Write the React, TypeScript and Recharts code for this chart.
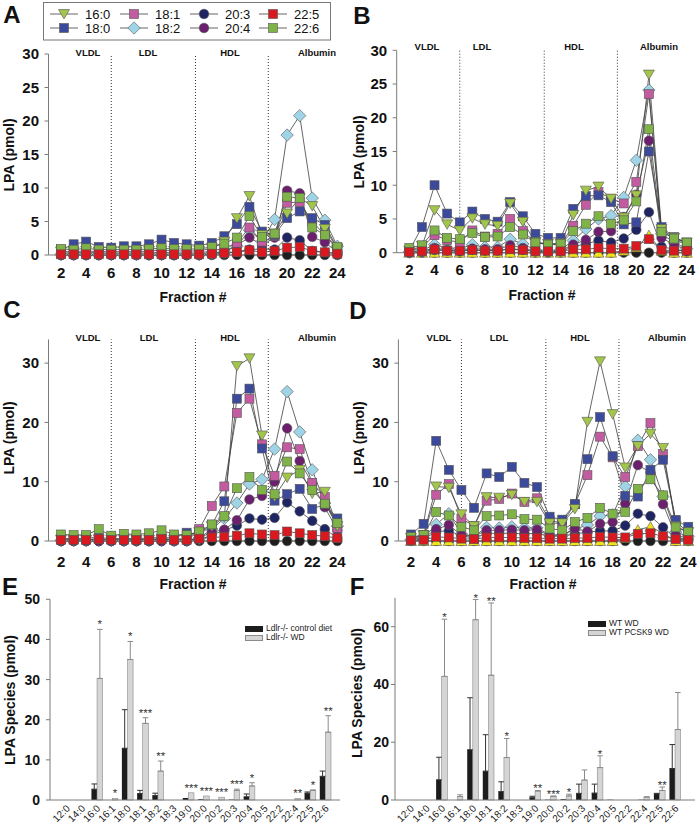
import React from 'react';
import { LineChart, Line, XAxis, YAxis, ReferenceLine, BarChart, Bar, ErrorBar } from 'recharts';

const FONT = '"Liberation Sans", Arial, Helvetica, sans-serif';

// fractions 2..24
const fractions = [2, 3, 4, 5, 6, 7, 8, 9, 10, 11, 12, 13, 14, 15, 16, 17, 18, 19, 20, 21, 22, 23, 24];
const fracTicks = [2, 4, 6, 8, 10, 12, 14, 16, 18, 20, 22, 24];
const dividers = [6, 12.7, 18.5];
const regionNames = ['VLDL', 'LDL', 'HDL', 'Albumin'];
const baseline = [0, 0, 0, 0, 0, 0, 0, 0, 0, 0, 0, 0, 0, 0, 0, 0, 0, 0, 0, 0, 0, 0, 0];

// panel A
const a160 = [0.5, 0.5, 0.6, 0.5, 0.5, 0.5, 0.5, 0.6, 0.7, 0.6, 0.6, 0.6, 1.0, 2.0, 5.5, 8.8, 3.0, 3.2, 6.2, 8.5, 7.3, 3.9, 1.0];
const a180 = [0.8, 1.6, 2.0, 1.2, 1.1, 1.3, 1.3, 1.6, 2.3, 1.8, 1.6, 1.4, 1.8, 2.8, 4.6, 7.2, 3.5, 3.0, 5.5, 6.5, 5.5, 4.5, 1.0];
const a181 = [0.3, 0.3, 0.4, 0.3, 0.3, 0.3, 0.3, 0.3, 0.4, 0.3, 0.3, 0.3, 0.6, 1.0, 1.8, 4.1, 2.0, 2.8, 7.8, 7.9, 5.0, 3.0, 0.8];
const a182 = [0.1, 0.1, 0.1, 0.1, 0.1, 0.1, 0.1, 0.1, 0.1, 0.1, 0.1, 0.1, 0.2, 0.5, 1.3, 3.7, 2.0, 5.3, 17.9, 20.8, 8.5, 5.2, 1.3];
const a203 = [0, 0, 0, 0, 0, 0, 0, 0, 0, 0, 0, 0, 0.1, 0.2, 0.5, 0.8, 0.9, 0.8, 2.6, 2.2, 0.6, 0.4, 0.2];
const a204 = [0, 0, 0, 0, 0, 0, 0, 0, 0, 0, 0, 0, 0.2, 0.5, 1.5, 2.6, 1.5, 2.6, 9.6, 9.2, 2.7, 1.9, 0.4];
const a225 = [0.1, 0.1, 0.1, 0.1, 0.1, 0.1, 0.1, 0.1, 0.1, 0.1, 0.1, 0.1, 0.2, 0.3, 0.4, 0.7, 0.4, 0.6, 1.1, 1.2, 0.6, 0.4, 0.2];
const a226 = [0.9, 0.8, 1.0, 0.8, 0.8, 0.8, 0.8, 0.9, 1.0, 0.9, 0.9, 0.9, 1.2, 1.7, 2.6, 5.8, 2.7, 3.2, 8.7, 8.5, 4.1, 3.0, 1.2];

// panel B
const b160 = [0.3, 1.0, 6.3, 4.2, 3.3, 5.1, 4.2, 4.0, 7.3, 4.6, 1.6, 1.3, 1.4, 5.6, 9.2, 9.8, 8.0, 5.2, 8.5, 26.4, 3.5, 2.2, 1.5];
const b180 = [0.3, 3.8, 10.0, 5.8, 4.5, 6.1, 5.0, 4.6, 7.5, 5.4, 2.8, 2.2, 2.2, 6.5, 8.4, 8.5, 7.5, 4.2, 4.5, 15.0, 3.8, 2.3, 1.5];
const b181 = [0.2, 0.8, 2.6, 1.9, 1.5, 3.3, 2.4, 2.8, 5.0, 3.2, 1.5, 1.2, 1.2, 4.0, 7.1, 9.0, 8.0, 7.3, 10.5, 23.5, 3.3, 2.0, 1.2];
const b182 = [0.1, 0.3, 1.2, 0.7, 0.6, 1.2, 0.8, 0.8, 2.0, 1.3, 0.4, 0.3, 0.4, 1.8, 3.5, 5.0, 5.5, 8.2, 13.7, 24.1, 2.8, 1.5, 0.6];
const b203 = [0, 0.1, 0.4, 0.3, 0.2, 0.4, 0.3, 0.3, 0.6, 0.4, 0.2, 0.1, 0.2, 0.9, 1.3, 1.8, 1.5, 2.1, 3.4, 6.0, 0.9, 0.5, 0.2];
const b204 = [0, 0.2, 0.7, 0.4, 0.4, 0.6, 0.5, 0.5, 1.1, 0.7, 0.3, 0.2, 0.3, 1.2, 1.9, 3.1, 3.2, 5.3, 8.6, 16.6, 2.2, 1.2, 0.4];
const b225 = [0.1, 0.2, 0.5, 0.3, 0.3, 0.4, 0.3, 0.3, 0.5, 0.4, 0.2, 0.2, 0.2, 0.5, 0.5, 0.7, 0.6, 0.6, 1.0, 2.0, 0.4, 0.3, 0.3];
const b226 = [0.7, 1.1, 3.3, 2.2, 2.0, 2.9, 2.3, 2.4, 3.8, 2.7, 1.5, 1.2, 1.3, 3.2, 4.3, 5.4, 4.3, 4.8, 7.6, 18.3, 3.1, 2.1, 1.5];
const bYel = [0, 0, 0, 0, 0, 0, 0, 0, 0, 0, 0, 0, 0, 0, 0, 0, 0, 0.3, 0.8, 2.6, 0.3, 0, 0];

// panel C
const c160 = [0.2, 0.2, 0.2, 0.3, 0.2, 0.2, 0.2, 0.2, 0.3, 0.2, 0.3, 1.5, 2.5, 4.0, 29.5, 30.8, 17.8, 7.5, 10.7, 12.0, 8.0, 8.3, 2.5];
const c180 = [0.4, 0.4, 0.5, 0.6, 0.4, 0.4, 0.4, 0.5, 0.6, 0.5, 1.4, 1.0, 2.7, 6.7, 24.0, 25.7, 15.6, 6.8, 7.9, 8.8, 5.4, 6.2, 3.8];
const c181 = [0.3, 0.3, 0.3, 0.3, 0.3, 0.3, 0.3, 0.3, 0.4, 0.3, 0.4, 2.0, 5.9, 9.2, 21.6, 24.0, 16.3, 11.0, 15.8, 15.5, 9.8, 7.4, 2.2];
const c182 = [0.1, 0.1, 0.1, 0.1, 0.1, 0.1, 0.1, 0.1, 0.1, 0.1, 0.1, 0.5, 2.0, 3.8, 6.4, 9.6, 10.4, 15.5, 25.2, 18.4, 12.0, 6.4, 2.5];
const c203 = [0, 0, 0, 0, 0, 0, 0, 0, 0, 0, 0, 0.2, 1.0, 1.8, 2.6, 3.8, 3.6, 3.9, 6.5, 5.0, 3.4, 2.0, 0.5];
const c204 = [0, 0, 0, 0, 0, 0, 0, 0, 0, 0, 0, 0.5, 1.5, 1.9, 3.5, 7.0, 7.6, 10.0, 19.0, 13.5, 9.7, 5.7, 1.8];
const c225 = [0.2, 0.2, 0.2, 0.3, 0.2, 0.2, 0.2, 0.2, 0.3, 0.2, 0.2, 0.4, 0.6, 0.7, 0.9, 1.3, 1.1, 1.0, 1.6, 1.3, 1.0, 0.8, 0.5];
const c226 = [1.1, 1.0, 1.0, 2.0, 0.9, 1.2, 1.1, 1.3, 1.8, 1.1, 1.0, 1.6, 2.8, 4.2, 8.9, 10.8, 8.6, 7.9, 13.4, 11.4, 8.6, 6.3, 3.0];

// panel D
const d160 = [0.5, 1.0, 9.2, 9.0, 4.5, 2.5, 7.4, 7.3, 7.8, 6.6, 6.6, 3.0, 3.0, 5.4, 20.1, 30.3, 21.4, 12.4, 16.0, 18.1, 15.7, 2.5, 1.5];
const d180 = [1.1, 2.9, 16.9, 12.0, 8.6, 5.6, 11.4, 10.8, 12.5, 9.8, 9.1, 4.1, 3.6, 6.2, 13.8, 20.9, 14.3, 7.6, 7.5, 12.0, 13.7, 3.5, 2.4];
const d181 = [0.3, 1.0, 7.8, 9.6, 3.8, 2.5, 6.8, 7.1, 8.0, 6.6, 7.2, 3.5, 3.0, 6.2, 11.1, 17.6, 14.1, 10.8, 16.0, 19.9, 14.7, 3.5, 1.2];
const d182 = [0.2, 0.5, 2.8, 4.6, 1.2, 0.8, 2.3, 2.2, 2.4, 2.2, 2.2, 1.0, 1.0, 2.0, 2.7, 4.2, 4.4, 9.2, 17.0, 13.7, 7.5, 1.5, 0.8];
const d203 = [0.1, 0.3, 1.6, 1.7, 0.9, 0.5, 1.3, 1.3, 1.3, 1.2, 1.3, 0.8, 0.8, 1.2, 1.5, 1.7, 1.7, 2.6, 4.6, 4.2, 2.3, 0.5, 0.3];
const d204 = [0.2, 0.5, 2.0, 2.7, 1.0, 0.8, 1.8, 1.8, 1.9, 1.8, 1.9, 0.9, 1.0, 2.1, 1.6, 2.9, 3.2, 6.3, 12.8, 11.6, 6.2, 1.0, 0.4];
const d225 = [0.1, 0.2, 0.7, 0.6, 0.4, 0.3, 0.6, 0.6, 0.6, 0.5, 0.5, 0.4, 0.4, 0.5, 0.5, 0.7, 0.6, 0.6, 1.2, 1.3, 0.8, 0.3, 0.2];
const d226 = [0.7, 1.0, 4.9, 4.3, 2.4, 1.8, 4.2, 4.3, 4.5, 3.7, 3.6, 2.1, 1.8, 3.2, 3.9, 5.6, 4.6, 4.9, 8.8, 10.4, 7.7, 2.3, 1.5];
const dYel = [0, 0, 0, 0, 0, 0, 0, 0, 0, 0, 0, 0, 0, 0, 0, 0, 0, 0.5, 1.9, 2.4, 1.3, 0, 0];

// panels E and F
const speciesCats = ['12:0', '14:0', '16:0', '16:1', '18:0', '18:1', '18:2', '18:3', '19:0', '20:0', '20:2', '20:3', '20:4', '20:5', '22:2', '22:4', '22:5', '22:6'];

const eCtl = [0, 0, 2.7, 0, 12.9, 1.6, 1.1, 0, 0.5, 0.2, 0, 0.1, 0.8, 0, 0, 0, 1.7, 5.9];
const eCtlErr = [0, 0, 1.3, 0, 9.6, 0.8, 0.6, 0, 0, 0, 0, 0, 0.7, 0, 0, 0, 0.3, 1.3];
const eWd = [0, 0, 30.3, 0.4, 35.0, 19.1, 7.2, 0, 1.8, 1.0, 0.7, 2.4, 3.5, 0, 0, 0.4, 2.4, 16.9];
const eWdErr = [0, 0, 12.2, 0, 4.5, 1.4, 2.5, 0, 0, 0, 0, 0.3, 0.8, 0, 0, 0, 0.1, 4.1];
const eStars = ['', '', '*', '*', '*', '***', '**', '', '***', '***', '***', '***', '*', '', '', '**', '*', '**'];

const fCtl = [0, 0, 7.0, 0, 17.4, 10.0, 2.9, 0, 0.8, 0.1, 0.3, 2.3, 2.4, 0.1, 0, 0.1, 2.1, 10.9];
const fCtlErr = [0, 0, 7.8, 0, 18.0, 12.6, 3.4, 0, 0.5, 0, 0, 3.2, 3.1, 0, 0, 0, 0.2, 8.3];
const fWd = [0, 0, 42.8, 1.2, 62.4, 43.2, 14.7, 0, 3.1, 1.2, 1.4, 6.9, 11.2, 0, 0, 1.0, 3.3, 24.4];
const fWdErr = [0, 0, 19.8, 0.6, 7.0, 25.0, 6.6, 0, 0.2, 0.2, 0.6, 3.5, 4.1, 0, 0, 0.1, 1.2, 12.8];
const fStars = ['', '', '*', '', '*', '**', '*', '', '**', '***', '*', '', '*', '', '', '', '**', ''];

// series looks
type Shape = 'square' | 'circle' | 'diamond' | 'down' | 'up';
const seriesLook: Record<string, { name: string; color: string; shape: Shape }> = {
  oth: { name: 'other', color: '#1e1e1e', shape: 'circle' },
  yel: { name: 'other2', color: '#f1e21a', shape: 'up' },
  s160: { name: '16:0', color: '#a2c64a', shape: 'down' },
  s180: { name: '18:0', color: '#3c4a9c', shape: 'square' },
  s181: { name: '18:1', color: '#c35ba1', shape: 'square' },
  s182: { name: '18:2', color: '#9fd4e6', shape: 'diamond' },
  s203: { name: '20:3', color: '#1f2563', shape: 'circle' },
  s204: { name: '20:4', color: '#6b1f6d', shape: 'circle' },
  s225: { name: '22:5', color: '#d8191f', shape: 'square' },
  s226: { name: '22:6', color: '#7fb347', shape: 'square' },
};
const drawOrder = ['oth', 'yel', 's203', 's182', 's204', 's181', 's180', 's160', 's226', 's225'];
const legendRows = [['s160', 's181', 's203', 's225'], ['s180', 's182', 's204', 's226']];

function Marker({ shape, cx, cy, fill }: { shape: Shape; cx: number; cy: number; fill: string }) {
  const st = { fill, stroke: '#555', strokeWidth: 0.6 };
  if (shape === 'square') return <rect x={cx - 4.5} y={cy - 4.5} width={9} height={9} {...st} />;
  if (shape === 'circle') return <circle cx={cx} cy={cy} r={4.8} {...st} />;
  if (shape === 'diamond')
    return <polygon points={`${cx},${cy - 6.2} ${cx + 6.2},${cy} ${cx},${cy + 6.2} ${cx - 6.2},${cy}`} {...st} />;
  if (shape === 'up')
    return <polygon points={`${cx - 5.5},${cy + 4.5} ${cx + 5.5},${cy + 4.5} ${cx},${cy - 5}`} {...st} />;
  return <polygon points={`${cx - 5.5},${cy - 4.5} ${cx + 5.5},${cy - 4.5} ${cx},${cy + 5}`} {...st} />;
}

function buildRows(panel: Record<string, number[]>) {
  return fractions.map((f, i) => {
    const row: Record<string, number> = { f };
    Object.keys(panel).forEach((k) => (row[k] = panel[k][i]));
    return row;
  });
}

const rowsA = buildRows({ oth: baseline, s160: a160, s180: a180, s181: a181, s182: a182, s203: a203, s204: a204, s225: a225, s226: a226 });
const rowsB = buildRows({ oth: baseline, yel: bYel, s160: b160, s180: b180, s181: b181, s182: b182, s203: b203, s204: b204, s225: b225, s226: b226 });
const rowsC = buildRows({ oth: baseline, s160: c160, s180: c180, s181: c181, s182: c182, s203: c203, s204: c204, s225: c225, s226: c226 });
const rowsD = buildRows({ oth: baseline, yel: dYel, s160: d160, s180: d180, s181: d181, s182: d182, s203: d203, s204: d204, s225: d225, s226: d226 });

const buildBars = (ctl: number[], ctlErr: number[], wd: number[], wdErr: number[], stars: string[]) =>
  speciesCats.map((sp, i) => ({
    sp,
    ctl: ctl[i],
    wd: wd[i],
    ctlE: ctlErr[i] > 0 ? [0, ctlErr[i]] : null,
    wdE: wdErr[i] > 0 ? [0, wdErr[i]] : null,
    wdTop: wd[i] + wdErr[i],
    star: stars[i],
  }));

const rowsE = buildBars(eCtl, eCtlErr, eWd, eWdErr, eStars);
const rowsF = buildBars(fCtl, fCtlErr, fWd, fWdErr, fStars);

const axisGray = '#7a7a7a';
const bigTick = { fontSize: 15, fontWeight: 700, fill: '#111', fontFamily: FONT };

function Txt({ x, y, size, children, weight = 700, rotate = false }: any) {
  return (
    <div
      style={{
        position: 'absolute',
        left: x,
        top: y,
        transform: `translate(-50%, -50%)${rotate ? ' rotate(-90deg)' : ''}`,
        fontSize: size,
        fontWeight: weight,
        whiteSpace: 'nowrap',
        lineHeight: 1,
        fontFamily: FONT,
        color: '#111',
      }}
    >
      {children}
    </div>
  );
}

function FractionPanel({ left, top, width, height, margin, rows, yMax, yTicks, tickGap, labelY, labelX }: any) {
  const keys = drawOrder.filter((k) => k in rows[0]);
  return (
    <>
      <div style={{ position: 'absolute', left, top }}>
        <LineChart width={width} height={height} data={rows} margin={margin}>
          <XAxis
            type="number"
            dataKey="f"
            domain={[1, 24.25]}
            ticks={fracTicks}
            interval={0}
            tickLine={false}
            tickSize={0}
            tickMargin={tickGap}
            axisLine={{ stroke: axisGray }}
            tick={bigTick}
            height={30}
          />
          <YAxis
            type="number"
            domain={[0, yMax]}
            ticks={yTicks}
            interval={0}
            width={40}
            tickSize={4}
            tickMargin={5.5}
            tickLine={{ stroke: axisGray }}
            axisLine={{ stroke: axisGray }}
            tick={bigTick}
          />
          {dividers.map((d) => (
            <ReferenceLine key={d} x={d} stroke="#333" strokeDasharray="1 2" strokeWidth={1} />
          ))}
          {keys.map((k) => {
            const look = seriesLook[k];
            return (
              <Line
                key={k}
                dataKey={k}
                name={look.name}
                type="linear"
                stroke="#404040"
                strokeWidth={0.8}
                activeDot={false}
                isAnimationActive={false}
                dot={(p: any) => (
                  <Marker key={`${k}-${p.index}`} shape={look.shape} cx={p.cx} cy={p.cy} fill={look.color} />
                )}
              />
            );
          })}
        </LineChart>
      </div>
      {regionNames.map((r, i) => (
        <Txt key={r} x={labelX[i]} y={labelY} size={9.5}>
          {r}
        </Txt>
      ))}
    </>
  );
}

const SpeciesTick = (p: any) => {
  const x = p.x + 4;
  const y = p.y + 9;
  return (
    <text x={x} y={y} textAnchor="end" transform={`rotate(-45 ${x} ${y})`} fontSize={10} fill="#222" fontFamily={FONT}>
      {p.payload.value}
    </text>
  );
};

const grayShape = (starLift: number) => (p: any) => {
  const { x, y, width, height, payload } = p;
  if (!(height > 0)) return <g />;
  const perUnit = height / payload.wd;
  const topY = y + height - payload.wdTop * perUnit;
  return (
    <g>
      <rect x={x} y={y} width={width} height={height} fill="#d5d5d5" stroke="#8a8a8a" strokeWidth={0.6} />
      {payload.star ? (
        <text x={x + width / 2} y={topY - starLift} textAnchor="middle" fontSize={11.5} fill="#333" fontFamily={FONT}>
          {payload.star}
        </text>
      ) : null}
    </g>
  );
};

function SpeciesPanel({ left, top, width, height, margin, rows, yMax, yTicks, pad, starLift, tickMargin }: any) {
  return (
    <div style={{ position: 'absolute', left, top }}>
      <BarChart width={width} height={height} data={rows} margin={margin} barGap={0} barSize={5.6}>
        <XAxis
          dataKey="sp"
          type="category"
          interval={0}
          tickLine={false}
          tickSize={0}
          tickMargin={0}
          padding={pad}
          axisLine={{ stroke: axisGray }}
          height={26}
          tick={SpeciesTick}
        />
        <YAxis
          type="number"
          domain={[0, yMax]}
          ticks={yTicks}
          interval={0}
          width={40}
          tickSize={4}
          tickMargin={tickMargin}
          tickLine={{ stroke: axisGray }}
          axisLine={{ stroke: axisGray }}
          tick={{ fontSize: 14, fontWeight: 700, fill: '#111', fontFamily: FONT }}
        />
        <Bar dataKey="ctl" fill="#1c1c1c" isAnimationActive={false}>
          <ErrorBar dataKey="ctlE" width={2.8} stroke="#333" strokeWidth={1} direction="y" />
        </Bar>
        <Bar dataKey="wd" fill="#d5d5d5" isAnimationActive={false} shape={grayShape(starLift)}>
          <ErrorBar dataKey="wdE" width={2.8} stroke="#8a8a8a" strokeWidth={1} direction="y" />
        </Bar>
      </BarChart>
    </div>
  );
}

function BarLegend({ x, y, labels }: { x: number; y: number; labels: string[] }) {
  return (
    <>
      {labels.map((l, i) => (
        <div key={l} style={{ position: 'absolute', left: x, top: y + i * 9, height: 9, display: 'flex', alignItems: 'center' }}>
          <div
            style={{
              width: 18,
              height: 6,
              boxSizing: 'border-box',
              background: i === 0 ? '#1c1c1c' : '#d5d5d5',
              border: i === 0 ? 'none' : '0.6px solid #8a8a8a',
            }}
          />
          <span style={{ marginLeft: 3, fontSize: 8.5, fontFamily: FONT, color: '#222', lineHeight: 1 }}>{l}</span>
        </div>
      ))}
    </>
  );
}

function TopLegend() {
  const colX = [64, 134, 204, 273];
  const rowY = [14, 28];
  return (
    <svg style={{ position: 'absolute', left: 0, top: 0 }} width={340} height={44}>
      <rect x={43.5} y={2.5} width={287} height={37.5} fill="#fff" stroke="#777" strokeWidth={1} />
      {legendRows.map((row, ri) =>
        row.map((k, ci) => {
          const look = seriesLook[k];
          const cx = colX[ci];
          const cy = rowY[ri];
          return (
            <g key={k}>
              <line x1={cx - 14} x2={cx + 14} y1={cy} y2={cy} stroke="#404040" strokeWidth={0.8} />
              <Marker shape={look.shape} cx={cx} cy={cy} fill={look.color} />
              <text x={cx + 21} y={cy + 4.7} fontSize={13} fontFamily={FONT} fill="#111">
                {look.name}
              </text>
            </g>
          );
        })
      )}
    </svg>
  );
}

export default function App() {
  return (
    <div style={{ position: 'absolute', left: 0, top: 0, width: 697, height: 826, background: '#fff', overflow: 'hidden', fontFamily: FONT }}>
      <FractionPanel
        left={0} top={40} width={350} height={270}
        margin={{ left: 8.5, top: 14, right: 9.5, bottom: 25 }}
        rows={rowsA} yMax={30} yTicks={[0, 5, 10, 15, 20, 25, 30]} tickGap={12.6}
        labelY={53} labelX={[88, 148, 230, 317]}
      />
      <FractionPanel
        left={350} top={30} width={347} height={280}
        margin={{ left: 6.7, top: 20.3, right: 7.1, bottom: 27.3 }}
        rows={rowsB} yMax={30} yTicks={[0, 5, 10, 15, 20, 25, 30]} tickGap={11.2}
        labelY={47} labelX={[427, 482, 574, 659]}
      />
      <FractionPanel
        left={0} top={320} width={350} height={280}
        margin={{ left: 8.5, top: 19.4, right: 9.5, bottom: 29 }}
        rows={rowsC} yMax={34} yTicks={[0, 10, 20, 30]} tickGap={15.6}
        labelY={338} labelX={[88, 149, 230, 317]}
      />
      <FractionPanel
        left={350} top={320} width={347} height={280}
        margin={{ left: 8.4, top: 19.4, right: 5.6, bottom: 29 }}
        rows={rowsD} yMax={34} yTicks={[0, 10, 20, 30]} tickGap={15.6}
        labelY={338} labelX={[439, 499, 580, 667]}
      />
      <SpeciesPanel
        left={0} top={590} width={350} height={236}
        margin={{ left: 10, top: 9.3, right: 10, bottom: 0 }}
        rows={rowsE} yMax={50} yTicks={[0, 10, 20, 30, 40, 50]} pad={{ left: 9, right: 7 }} starLift={1} tickMargin={6}
      />
      <SpeciesPanel
        left={350} top={590} width={347} height={236}
        margin={{ left: 5, top: 7.8, right: 2, bottom: 0 }}
        rows={rowsF} yMax={70} yTicks={[0, 20, 40, 60]} pad={{ left: 8, right: 12 }} starLift={-2} tickMargin={2}
      />

      <TopLegend />
      <BarLegend x={245} y={624} labels={['Ldlr-/- control diet', 'Ldlr-/- WD']} />
      <BarLegend x={588} y={619} labels={['WT WD', 'WT PCSK9 WD']} />

      <Txt x={9} y={155} size={14} rotate>LPA (pmol)</Txt>
      <Txt x={193} y={297} size={14}>Fraction #</Txt>
      <Txt x={359} y={152} size={14} rotate>LPA (pmol)</Txt>
      <Txt x={542} y={295} size={14}>Fraction #</Txt>
      <Txt x={9} y={438} size={14} rotate>LPA (pmol)</Txt>
      <Txt x={193} y={584} size={14}>Fraction #</Txt>
      <Txt x={359} y={438} size={14} rotate>LPA (pmol)</Txt>
      <Txt x={543} y={584} size={14}>Fraction #</Txt>
      <Txt x={10} y={700} size={14} rotate>LPA Species (pmol)</Txt>
      <Txt x={357} y={693} size={14} rotate>LPA Species (pmol)</Txt>

      <Txt x={12} y={15} size={24}>A</Txt>
      <Txt x={362} y={16} size={24}>B</Txt>
      <Txt x={12} y={310} size={24}>C</Txt>
      <Txt x={358} y={311} size={24}>D</Txt>
      <Txt x={10} y={587} size={24}>E</Txt>
      <Txt x={357} y={587} size={24}>F</Txt>
    </div>
  );
}
